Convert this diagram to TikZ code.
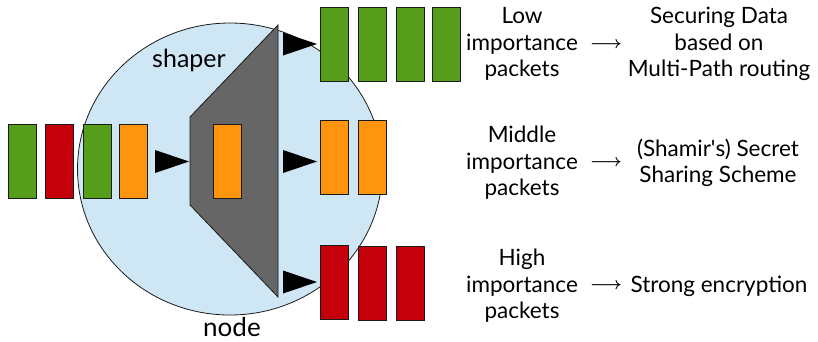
\documentclass[tikz,border=0pt]{standalone}
\usepackage{fontspec}
\setmainfont{Lato}
\usetikzlibrary{shapes.geometric}
\definecolor{pgreen}{HTML}{579D1C}
\definecolor{pred}{HTML}{C5000B}
\definecolor{porange}{HTML}{FF950E}
\definecolor{nodeblue}{HTML}{CFE7F5}
\definecolor{shapergray}{HTML}{666666}
\definecolor{edge}{HTML}{1A1A1A}
\begin{document}
\begin{tikzpicture}[x=1pt,y=-1pt,
  packet/.style={draw=edge, line width=1pt, minimum width=28pt, minimum height=74pt, inner sep=0pt},
  lbl/.style={align=center, font=\fontsize{22.5}{26.5}\selectfont, inner sep=0pt},
  flowarrow/.style={inner sep=0pt, font=\fontsize{17}{20}\selectfont\boldmath},
  wedge/.pic={\fill[black] (0,-11.5) -- (34,0) -- (0,11.5) -- cycle;}]
\useasboundingbox (0,0) rectangle (818,341);

% the network node
\node[ellipse, draw=edge, line width=0.8pt, fill=nodeblue, minimum width=305pt, minimum height=292pt, inner sep=0pt] (ring) at (230,169) {};

% shaper
\coordinate (s1) at (190,117);
\coordinate (s2) at (278,25);
\coordinate (s3) at (278,297);
\coordinate (s4) at (190,205);
\draw[fill=shapergray, draw=edge, line width=0.8pt] (s1) -- (s2) -- (s3) -- (s4) -- cycle;

% incoming packets
\node[packet, fill=pgreen]  (in1) at (22,161) {};
\node[packet, fill=pred]    (in2) at (59.5,161) {};
\node[packet, fill=pgreen]  (in3) at (97,161) {};
\node[packet, fill=porange] (in4) at (133.5,161) {};
\node[packet, fill=porange] (cur) at (227,161) {};

% outgoing packets
\node[packet, fill=pgreen] (lo1) at (334,44) {};
\node[packet, fill=pgreen] (lo2) at (372,44.5) {};
\node[packet, fill=pgreen] (lo3) at (410,44.5) {};
\node[packet, fill=pgreen] (lo4) at (446.5,44.5) {};
\node[packet, fill=porange] (mi1) at (334,157) {};
\node[packet, fill=porange] (mi2) at (372,157) {};
\node[packet, fill=pred] (hi1) at (334,282.5) {};
\node[packet, fill=pred] (hi2) at (372,283) {};
\node[packet, fill=pred] (hi3) at (410,283) {};

% flow wedges
\pic at (155,161.5) {wedge};
\pic at (283,44) {wedge};
\pic at (283,161.5) {wedge};
\pic at (283,282) {wedge};

% labels
\node[inner sep=0pt, font=\fontsize{25}{28}\selectfont] (shaper) at (189,60) {shaper};
\node[inner sep=0pt, font=\fontsize{26}{28}\selectfont, text depth=0pt, anchor=base] (nodelbl) at (232,336) {node};

\node[lbl] (low) at (522,44) {Low\\importance\\packets};
\node[lbl] (mid) at (522,163) {Middle\\importance\\packets};
\node[lbl] (high) at (522,286) {High\\importance\\packets};

\node[flowarrow] (a1) at (606,45) {$\longrightarrow$};
\node[flowarrow] (a2) at (606,163) {$\longrightarrow$};
\node[flowarrow] (a3) at (606,286) {$\longrightarrow$};

\node[lbl] (r1) at (719,44) {Securing Data\\based on\\Multi-Path routing};
\node[lbl] (r2) at (718,163) {(Shamir\textquotesingle s) Secret\\Sharing Scheme};
\node[lbl] (r3) at (719,286) {Strong encryption};
\end{tikzpicture}
\end{document}
